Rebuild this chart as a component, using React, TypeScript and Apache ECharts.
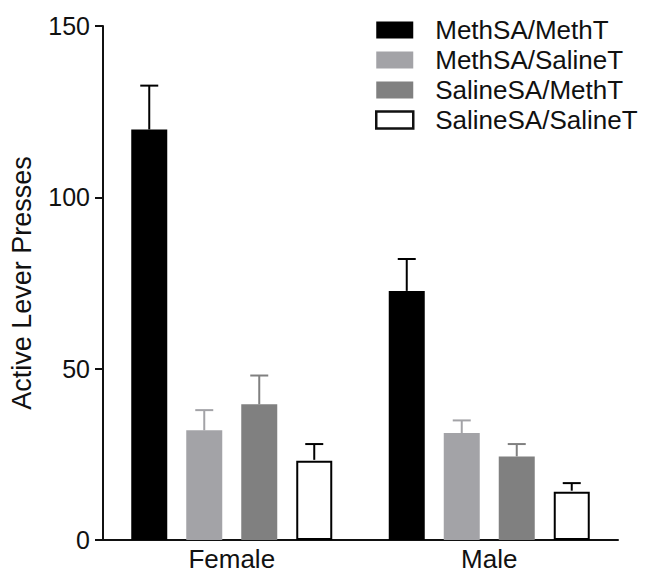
import React, { useEffect, useRef } from "react";
import * as echarts from "echarts";

const categories = ["Female", "Male"];
const seriesNames = ["MethSA/MethT", "MethSA/SalineT", "SalineSA/MethT", "SalineSA/SalineT"];
const meanMethMeth = [119.8, 72.7];
const semMethMeth = [12.8, 9.3];
const meanMethSaline = [32.0, 31.2];
const semMethSaline = [5.9, 3.7];
const meanSalineMeth = [39.6, 24.4];
const semSalineMeth = [8.4, 3.6];
const meanSalineSaline = [23.1, 14.1];
const semSalineSaline = [4.9, 2.5];
const yTicks = [0, 50, 100, 150];

const means = [meanMethMeth, meanMethSaline, meanSalineMeth, meanSalineSaline];
const sems = [semMethMeth, semMethSaline, semSalineMeth, semSalineSaline];

const fills = ["#000000", "#a3a3a7", "#808080", "#ffffff"];
const borders = ["#000000", "#a3a3a7", "#808080", "#000000"];
const errColors = ["#000000", "#a3a3a7", "#808080", "#000000"];

const BAR_W = 36;
const BAR_GAP = 19;
const FONT = "'Liberation Sans', Arial, sans-serif";

export default function App() {
  const ref = useRef<HTMLDivElement>(null);
  useEffect(() => {
    const chart = echarts.init(ref.current!, null, { renderer: "svg" });
    const barSeries = seriesNames.map((name, i) => ({
      name,
      type: "bar",
      data: means[i],
      barWidth: BAR_W,
      barGap: (BAR_GAP / BAR_W) * 100 + "%",
      itemStyle: {
        color: fills[i],
        borderColor: borders[i],
        borderWidth: i === 3 ? 2 : 0,
      },
      z: 2,
    }));
    const errSeries = seriesNames.map((name, i) => ({
      name: name + " SEM",
      type: "custom",
      data: categories.map((c, k) => [k, means[i][k], sems[i][k]]),
      encode: { x: 0, y: 1 },
      z: 3,
      renderItem: (params: any, api: any) => {
        const cat = api.value(0);
        const m = api.value(1);
        const e = api.value(2);
        const base = api.coord([cat, m]);
        const top = api.coord([cat, m + e]);
        const x = base[0] + (i - 1.5) * (BAR_W + BAR_GAP);
        const style = { stroke: errColors[i], lineWidth: 2 };
        return {
          type: "group",
          children: [
            { type: "line", shape: { x1: x, y1: base[1] - (i === 3 ? 1 : 0), x2: x, y2: top[1] }, style },
            { type: "line", shape: { x1: x - 9, y1: top[1], x2: x + 9, y2: top[1] }, style },
          ],
        };
      },
    }));
    chart.setOption({
      animation: false,
      backgroundColor: "#ffffff",
      textStyle: { fontFamily: FONT },
      grid: { left: 103, right: 32, top: 26, bottom: 37, containLabel: false },
      legend: {
        data: seriesNames.map((n, i) => ({
          name: n,
          icon: "rect",
          itemStyle: { color: fills[i], borderColor: i === 3 ? "#111" : fills[i], borderWidth: i === 3 ? 2.5 : 0 },
        })),
        orient: "vertical",
        left: 370,
        top: 12,
        itemWidth: 37,
        itemHeight: 17,
        itemGap: 4,
        selectedMode: false,
        textStyle: { fontFamily: FONT, fontSize: 26, color: "#111", padding: [0, 0, 0, 17] },
      },
      xAxis: {
        type: "category",
        data: categories,
        axisLine: { lineStyle: { color: "#111", width: 2 } },
        axisTick: { alignWithLabel: true, length: 8, lineStyle: { color: "#111", width: 2 } },
        axisLabel: { fontFamily: FONT, fontSize: 26, color: "#111", margin: 6 },
      },
      yAxis: {
        type: "value",
        min: yTicks[0],
        max: yTicks[yTicks.length - 1],
        interval: 50,
        name: "Active Lever Presses",
        nameLocation: "middle",
        nameGap: 68,
        nameTextStyle: { fontFamily: FONT, fontSize: 27, color: "#111" },
        splitLine: { show: false },
        axisLine: { show: true, lineStyle: { color: "#111", width: 2 } },
        axisTick: { show: true, length: 8, lineStyle: { color: "#111", width: 2 } },
        axisLabel: { fontFamily: FONT, fontSize: 25, color: "#111", margin: 13 },
      },
      series: [...barSeries, ...errSeries],
    });
    return () => chart.dispose();
  }, []);
  return <div ref={ref} style={{ position: "absolute", left: 0, top: 0, width: 650, height: 577 }} />;
}
